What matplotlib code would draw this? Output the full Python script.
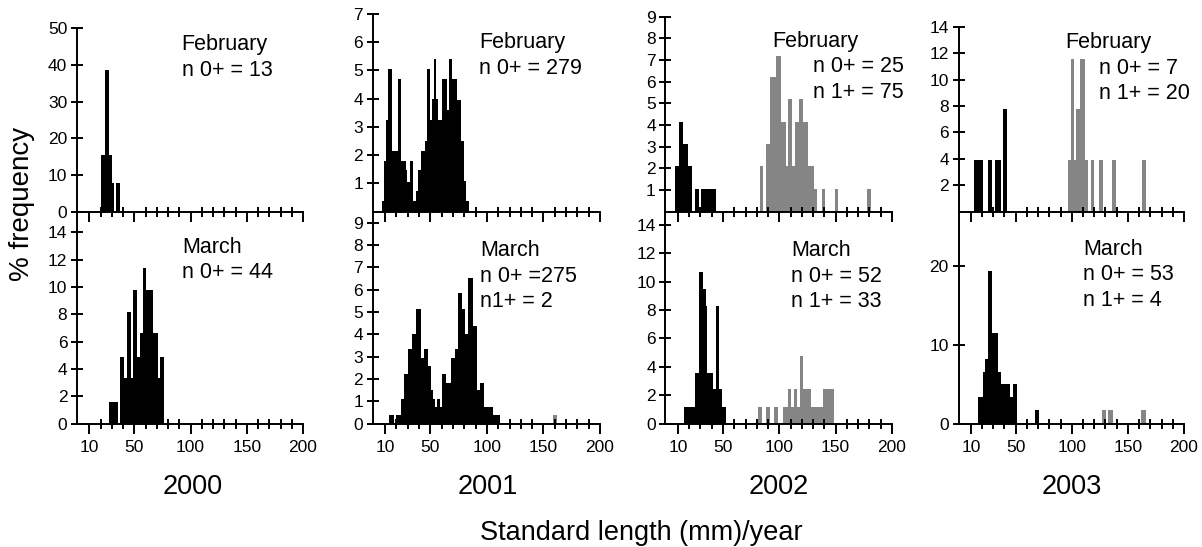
import numpy as np
import matplotlib.pyplot as plt
from matplotlib.ticker import FixedLocator

plt.rcParams['font.family'] = ['Liberation Sans', 'DejaVu Sans']

W, H = 1202, 547  # figure size in px

#%% data: class edges (mm) and % frequency, 0+ black / 1+ grey
# 2000
feb00_e0 = [20.4, 24.2, 27.5, 29.8, 31.9, 33.7, 37.2]
feb00_h0 = [15.4, 38.5, 15.4, 7.7, 0, 7.7]
mar00_e0 = [27.7, 35.1, 37.2, 41.0, 43.4, 46.9, 49.0, 52.8, 55.2, 57.9, 60.8, 66.7, 70.6, 72.9, 76.5]
mar00_h0 = [1.6, 0, 4.9, 3.3, 8.2, 3.3, 9.8, 4.9, 6.6, 11.4, 9.8, 6.6, 3.3, 4.9]
# 2001
feb01_e0 = [7.1, 9.4, 11.2, 12.9, 16.5, 21.5, 24.1, 28.2, 29.7, 31.7, 34.7, 37.0, 39.4, 41.4, 45.0,
            47.0, 49.4, 51.1, 52.9, 54.6, 57.0, 60.5, 64.9, 66.4, 69.3, 73.7, 77.5, 79.9, 81.7, 84.0]
feb01_h0 = [0.36, 1.8, 3.25, 5.04, 2.16, 4.69, 1.8, 1.47, 1.03, 1.8, 0.36, 0.74, 1.47, 2.16, 2.51,
            5.04, 3.25, 4.0, 5.39, 4.0, 3.25, 4.69, 3.58, 5.39, 4.69, 3.96, 2.51, 1.09, 0.36]
mar01_e0 = [13.6, 17.4, 19.8, 24.3, 26.4, 30.2, 33.8, 37.7, 41.9, 44.2, 47.8, 50.2, 52.3, 54.1, 56.2,
            58.2, 60.0, 63.6, 68.1, 71.6, 74.0, 77.9, 80.9, 83.6, 87.4, 91.0, 94.3, 97.8, 105.3, 111.2]
mar01_h0 = [0.37, 0, 0.37, 1.1, 2.2, 3.32, 4.0, 5.11, 2.94, 3.32, 2.57, 1.48, 1.1, 0.75, 1.1,
            0.75, 2.2, 1.82, 2.94, 3.32, 5.86, 5.11, 4.0, 6.53, 4.39, 1.48, 1.82, 0.75, 0.37]
mar01_e1 = [158.3, 161.9]
mar01_h1 = [0.37]
# 2002
feb02_e0 = [7.1, 11.2, 14.7, 18.8, 22.6, 25.5, 28.8, 30.8, 44.0]
feb02_h0 = [2.1, 4.15, 3.1, 2.1, 0, 1.05, 0, 1.05]
feb02_e1 = [82.7, 85.7, 88.6, 92.1, 96.8, 101.8, 105.6, 107.9, 111.5, 113.5, 117.3, 121.4, 125.2,
            131.1, 133.2, 137.9, 140.8, 149.6, 152.5, 177.4, 181.0]
feb02_h1 = [2.1, 0, 3.1, 6.2, 7.2, 4.15, 2.1, 5.2, 2.1, 4.15, 5.2, 4.15, 2.1, 1.05, 0, 1.05, 0,
            1.05, 0, 1.05]
mar02_e0 = [15.4, 25.5, 28.8, 32.4, 34.8, 36.2, 41.3, 43.4, 46.4, 48.8, 52.3]
mar02_h0 = [1.18, 3.55, 10.66, 9.48, 8.3, 3.55, 2.4, 8.3, 2.4, 1.18]
mar02_e1 = [80.7, 84.6, 88.1, 92.0, 95.6, 98.9, 103.3, 107.8, 110.5, 112.9, 115.9, 118.0, 120.9,
            124.8, 128.4, 130.8, 135.3, 139.1, 148.7]
mar02_h1 = [1.18, 0, 1.18, 0, 1.18, 0, 1.18, 2.4, 1.18, 2.4, 1.18, 4.78, 2.4, 2.4, 1.18, 1.18,
            1.18, 2.4]
# 2003
feb03_e0 = [13.0, 20.4, 25.1, 28.7, 31.1, 36.7, 39.1, 42.1]
feb03_h0 = [3.89, 0, 3.89, 0, 3.89, 0, 7.78]
feb03_e1 = [97.0, 99.1, 102.3, 103.5, 107.1, 111.5, 114.5, 116.9, 119.9, 124.3, 127.9, 136.2,
            139.8, 163.0, 165.9]
feb03_h1 = [3.89, 11.59, 3.89, 7.78, 11.59, 3.89, 0, 3.89, 0, 3.89, 0, 3.89, 0, 3.89]
mar03_e0 = [16.8, 20.4, 22.5, 24.9, 28.8, 34.4, 36.8, 44.8, 47.2, 50.8, 67.5, 70.5]
mar03_h0 = [3.4, 6.55, 8.17, 19.45, 11.5, 6.55, 4.98, 3.4, 4.98, 0, 1.66]
mar03_e1 = [127.0, 130.6, 132.1, 136.6, 161.3, 166.3]
mar03_h1 = [1.66, 0, 1.66, 0, 1.66]

years = ['2000', '2001', '2002', '2003']
feb_text = [['n 0+ = 13'], ['n 0+ = 279'], ['n 0+ = 25', 'n 1+ = 75'], ['n 0+ = 7', 'n 1+ = 20']]
mar_text = [['n 0+ = 44'], ['n 0+ =275', 'n1+ = 2'], ['n 0+ = 52', 'n 1+ = 33'], ['n 0+ = 53', 'n 1+ = 4']]
feb_yticks = [[0, 10, 20, 30, 40, 50], [1, 2, 3, 4, 5, 6, 7], [1, 2, 3, 4, 5, 6, 7, 8, 9],
              [2, 4, 6, 8, 10, 12, 14]]
mar_yticks = [[0, 2, 4, 6, 8, 10, 12, 14], [0, 1, 2, 3, 4, 5, 6, 7, 8, 9],
              [0, 2, 4, 6, 8, 10, 12, 14], [0, 10, 20]]
feb_ymax = [50, 7, 9, 14]
mar_ymax = [15.5, 9.48, 14.9, 26.9]

feb_0 = [(feb00_e0, feb00_h0), (feb01_e0, feb01_h0), (feb02_e0, feb02_h0), (feb03_e0, feb03_h0)]
feb_1 = [None, None, (feb02_e1, feb02_h1), (feb03_e1, feb03_h1)]
mar_0 = [(mar00_e0, mar00_h0), (mar01_e0, mar01_h0), (mar02_e0, mar02_h0), (mar03_e0, mar03_h0)]
mar_1 = [None, (mar01_e1, mar01_h1), (mar02_e1, mar02_h1), (mar03_e1, mar03_h1)]

#%% layout (px)
col_lr = [(77, 303), (372.7, 600), (665.5, 892), (958.5, 1184)]
top_y0 = [28.3, 14, 16.7, 26.7]
mid_y = 211.5
bot_y = 423.5
GREY = '#858585'


def px(x, y):
    return x / W, 1 - y / H


def make_ax(l, r, t, b):
    ax = fig.add_axes([l / W, 1 - b / H, (r - l) / W, (b - t) / H])
    for s in ['top', 'right']:
        ax.spines[s].set_visible(False)
    for s in ['left', 'bottom']:
        ax.spines[s].set_linewidth(1.4)
    ax.set_xlim(-1, 200)
    ax.xaxis.set_major_locator(FixedLocator([10, 50, 100, 150, 200]))
    ax.xaxis.set_minor_locator(FixedLocator([v for v in range(20, 200, 10) if v % 50]))
    ax.tick_params(axis='x', which='major', direction='out', length=7, width=1.4,
                   labelsize=12.5, pad=5)
    ax.tick_params(axis='x', which='minor', direction='inout', length=7, width=1.4)
    ax.tick_params(axis='y', direction='inout', length=8, width=1.4, labelsize=12.5, pad=3)
    ax.patch.set_alpha(0)
    return ax


fig = plt.figure(figsize=(W / 100, H / 100), dpi=100)

for i in range(4):
    l, r = col_lr[i]
    # February
    ax = make_ax(l, r, top_y0[i], mid_y)
    e, h = feb_0[i]
    ax.stairs(h, e, fill=True, color='black', lw=0)
    if feb_1[i] is not None:
        e, h = feb_1[i]
        ax.stairs(h, e, fill=True, color=GREY, lw=0)
    ax.set_ylim(0, feb_ymax[i])
    ax.set_yticks(feb_yticks[i])
    ax.tick_params(axis='x', labelbottom=False)
    # March
    ax = make_ax(l, r, mid_y + 0.5, bot_y)
    e, h = mar_0[i]
    ax.stairs(h, e, fill=True, color='black', lw=0)
    if mar_1[i] is not None:
        e, h = mar_1[i]
        ax.stairs(h, e, fill=True, color=GREY, lw=0)
    ax.set_ylim(0, mar_ymax[i])
    ax.set_yticks(mar_yticks[i])

#%% annotations
feb_pos = [(181.7, 50, 181.7), (479, 48, 479), (772, 47, 813), (1065.7, 48, 1099)]
mar_pos = [(182, 253, 182), (480, 256, 480), (791, 256, 791), (1083, 255, 1083)]
for i in range(4):
    x, y, xn = feb_pos[i]
    fig.text(*px(x, y), 'February', fontsize=15.5, va='baseline')
    for k, t in enumerate(feb_text[i]):
        fig.text(*px(xn, y + 25.5 * (k + 1)), t, fontsize=15.5, va='baseline')
    x, y, xn = mar_pos[i]
    fig.text(*px(x, y), 'March', fontsize=15.5, va='baseline')
    for k, t in enumerate(mar_text[i]):
        fig.text(*px(xn, y + 25.5 * (k + 1)), t, fontsize=15.5, va='baseline')

year_x = [192.5, 487.5, 779, 1072]
for i in range(4):
    fig.text(*px(year_x[i], 494), years[i], fontsize=19.5, ha='center', va='baseline')

fig.text(*px(641, 540), 'Standard length (mm)/year', fontsize=19.5, ha='center', va='baseline')
fig.text(*px(22, 203.5), '% frequency', fontsize=20, rotation=90, ha='center', va='center')

plt.savefig('out.png', dpi=100)
